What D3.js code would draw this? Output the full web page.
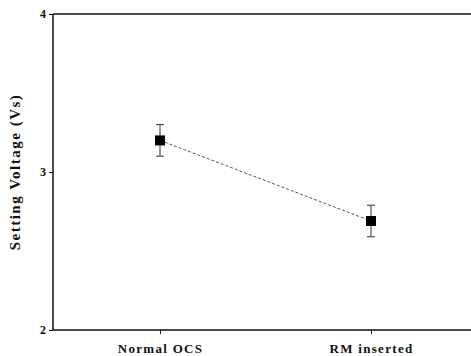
<!DOCTYPE html>
<html>
<head>
<meta charset="utf-8">
<script src="https://cdn.jsdelivr.net/npm/d3@7"></script>
<style>
  body { margin: 0; background: #fff; }
  text { font-family: "Liberation Serif", "DejaVu Serif", serif; font-weight: bold; fill: #111; }
</style>
</head>
<body>
<div id="chart"></div>
<script>
// categories along x
const CATEGORIES = ["Normal OCS", "RM inserted"];
// mean setting voltage
const VALUES = [3.2, 2.69];
// error bar half-widths
const ERRORS = [0.1, 0.1];
// y tick values
const Y_TICKS = [2, 3, 4];

function drawChart() {
    const W = 471, H = 356;
    const margin = { left: 53, top: 14, right: 0, bottom: 26 };
    const width = W - margin.left - margin.right;
    const height = H - margin.top - margin.bottom;

    const svg = d3.select("#chart").append("svg")
        .attr("width", W).attr("height", H);
    const g = svg.append("g").attr("transform", `translate(${margin.left},${margin.top})`);

    // x scale - category positions
    const x = d3.scalePoint().domain(CATEGORIES).range([107, 318]);
    const y = d3.scaleLinear().domain([2, 4]).range([height, 0]);

    // axes
    const yAxis = g.append("g")
        .call(d3.axisLeft(y).tickValues(Y_TICKS).tickFormat(d3.format("d")).tickSize(4).tickSizeOuter(0));
    const xAxis = g.append("g")
        .attr("transform", `translate(0,${height})`)
        .call(d3.axisBottom(x).tickSize(4).tickSizeOuter(0));
    // top frame line
    g.append("line")
        .attr("x1", 0).attr("x2", width)
        .attr("y1", 0).attr("y2", 0)
        .attr("stroke", "#111").attr("stroke-width", 1.5);

    [yAxis, xAxis].forEach(a => {
        a.select(".domain").attr("stroke", "#111").attr("stroke-width", 1.5)
            .attr("d", a === xAxis ? `M0,0H${width}` : `M0,${height}V0`);
        a.selectAll(".tick line").attr("stroke", "#111");
    });
    yAxis.selectAll(".tick text").attr("font-size", 12).attr("x", -7);
    xAxis.selectAll(".tick text").attr("font-size", 13)
        .attr("letter-spacing", 1.3).attr("y", 4).attr("dy", "1.45em");

    const pts = CATEGORIES.map((c, i) => ({ c, v: VALUES[i], e: ERRORS[i] }));

    // dashed connecting line
    g.append("path")
        .datum(pts)
        .attr("fill", "none")
        .attr("stroke", "#555")
        .attr("stroke-width", 1)
        .attr("stroke-dasharray", "3,2")
        .attr("d", d3.line().x(d => x(d.c)).y(d => y(d.v)));

    // error bars
    const eb = g.selectAll(".err").data(pts).enter().append("g").attr("class", "err");
    eb.append("line")
        .attr("x1", d => x(d.c)).attr("x2", d => x(d.c))
        .attr("y1", d => y(d.v + d.e)).attr("y2", d => y(d.v - d.e))
        .attr("stroke", "#333");
    eb.append("line")
        .attr("x1", d => x(d.c) - 4).attr("x2", d => x(d.c) + 4)
        .attr("y1", d => y(d.v + d.e)).attr("y2", d => y(d.v + d.e))
        .attr("stroke", "#333");
    eb.append("line")
        .attr("x1", d => x(d.c) - 4).attr("x2", d => x(d.c) + 4)
        .attr("y1", d => y(d.v - d.e)).attr("y2", d => y(d.v - d.e))
        .attr("stroke", "#333");

    // square markers
    g.selectAll(".pt").data(pts).enter().append("rect")
        .attr("x", d => x(d.c) - 5).attr("y", d => y(d.v) - 5)
        .attr("width", 10).attr("height", 10)
        .attr("fill", "#000");

    // y axis title
    svg.append("text")
        .attr("transform", `translate(20,${margin.top + height / 2}) rotate(-90)`)
        .attr("text-anchor", "middle")
        .attr("font-size", 15)
        .attr("letter-spacing", 1.5)
        .text("Setting Voltage (Vs)");
}

drawChart();
</script>
</body>
</html>
